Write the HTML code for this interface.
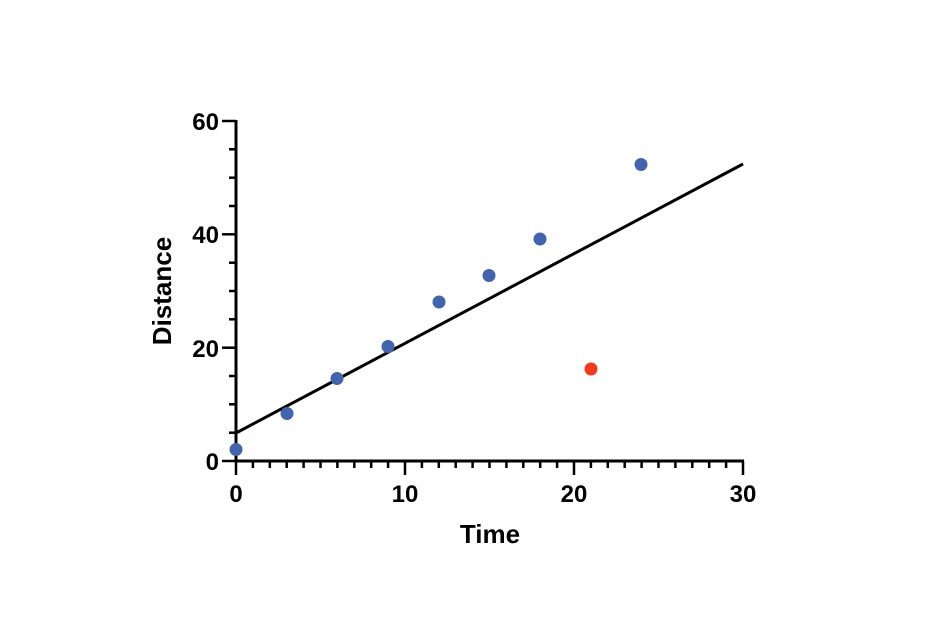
<!DOCTYPE html>
<html><head><style>body{margin:0;background:#fff}svg{display:block}</style></head><body>
<svg width="940" height="626" viewBox="0 0 940 626" xmlns="http://www.w3.org/2000/svg" font-family="Liberation Sans, sans-serif" font-weight="bold">
<g stroke="#000" stroke-width="3" fill="none">
<line x1="236" y1="120" x2="236" y2="462"/>
<line x1="234.5" y1="461" x2="744" y2="461"/>
</g>
<g stroke="#000" stroke-width="2.5">
<line x1="222" y1="461" x2="236" y2="461"/>
<line x1="229" y1="432.7" x2="236" y2="432.7"/>
<line x1="229" y1="404.3" x2="236" y2="404.3"/>
<line x1="229" y1="376" x2="236" y2="376"/>
<line x1="222" y1="347.7" x2="236" y2="347.7"/>
<line x1="229" y1="319.3" x2="236" y2="319.3"/>
<line x1="229" y1="291" x2="236" y2="291"/>
<line x1="229" y1="262.7" x2="236" y2="262.7"/>
<line x1="222" y1="234.3" x2="236" y2="234.3"/>
<line x1="229" y1="206" x2="236" y2="206"/>
<line x1="229" y1="177.7" x2="236" y2="177.7"/>
<line x1="229" y1="149.3" x2="236" y2="149.3"/>
<line x1="222" y1="121" x2="236" y2="121"/>
<line x1="236" y1="461" x2="236" y2="475"/>
<line x1="252.9" y1="461" x2="252.9" y2="468"/>
<line x1="269.8" y1="461" x2="269.8" y2="468"/>
<line x1="286.7" y1="461" x2="286.7" y2="468"/>
<line x1="303.6" y1="461" x2="303.6" y2="468"/>
<line x1="320.5" y1="461" x2="320.5" y2="468"/>
<line x1="337.4" y1="461" x2="337.4" y2="468"/>
<line x1="354.3" y1="461" x2="354.3" y2="468"/>
<line x1="371.2" y1="461" x2="371.2" y2="468"/>
<line x1="388.1" y1="461" x2="388.1" y2="468"/>
<line x1="405" y1="461" x2="405" y2="475"/>
<line x1="421.9" y1="461" x2="421.9" y2="468"/>
<line x1="438.8" y1="461" x2="438.8" y2="468"/>
<line x1="455.7" y1="461" x2="455.7" y2="468"/>
<line x1="472.6" y1="461" x2="472.6" y2="468"/>
<line x1="489.5" y1="461" x2="489.5" y2="468"/>
<line x1="506.4" y1="461" x2="506.4" y2="468"/>
<line x1="523.3" y1="461" x2="523.3" y2="468"/>
<line x1="540.2" y1="461" x2="540.2" y2="468"/>
<line x1="557.1" y1="461" x2="557.1" y2="468"/>
<line x1="574" y1="461" x2="574" y2="475"/>
<line x1="590.9" y1="461" x2="590.9" y2="468"/>
<line x1="607.8" y1="461" x2="607.8" y2="468"/>
<line x1="624.7" y1="461" x2="624.7" y2="468"/>
<line x1="641.6" y1="461" x2="641.6" y2="468"/>
<line x1="658.5" y1="461" x2="658.5" y2="468"/>
<line x1="675.4" y1="461" x2="675.4" y2="468"/>
<line x1="692.3" y1="461" x2="692.3" y2="468"/>
<line x1="709.2" y1="461" x2="709.2" y2="468"/>
<line x1="726.1" y1="461" x2="726.1" y2="468"/>
<line x1="743" y1="461" x2="743" y2="475"/>
</g>
<g font-size="24" text-anchor="end" fill="#000">
<text x="219" y="470">0</text><text x="219" y="357">20</text><text x="219" y="243">40</text><text x="219" y="130">60</text>
</g>
<g font-size="24" text-anchor="middle" fill="#000">
<text x="236" y="502">0</text><text x="405" y="502">10</text><text x="574" y="502">20</text><text x="743" y="502">30</text>
</g>
<text x="490" y="543" font-size="26" text-anchor="middle">Time</text>
<text transform="translate(171,291) rotate(-90)" font-size="26" text-anchor="middle">Distance</text>
<line x1="236" y1="433" x2="743" y2="164" stroke="#000" stroke-width="3"/>
<g fill="#4463ad">
<circle cx="236" cy="449.5" r="6.5"/><circle cx="287" cy="413.5" r="6.5"/><circle cx="337" cy="378.5" r="6.5"/>
<circle cx="388" cy="346.5" r="6.5"/><circle cx="439" cy="302" r="6.5"/><circle cx="489" cy="275.5" r="6.5"/>
<circle cx="540" cy="239" r="6.5"/><circle cx="641" cy="164.5" r="6.5"/>
</g>
<circle cx="591" cy="369" r="6.5" fill="#f03a1e"/>
</svg>
</body></html>
